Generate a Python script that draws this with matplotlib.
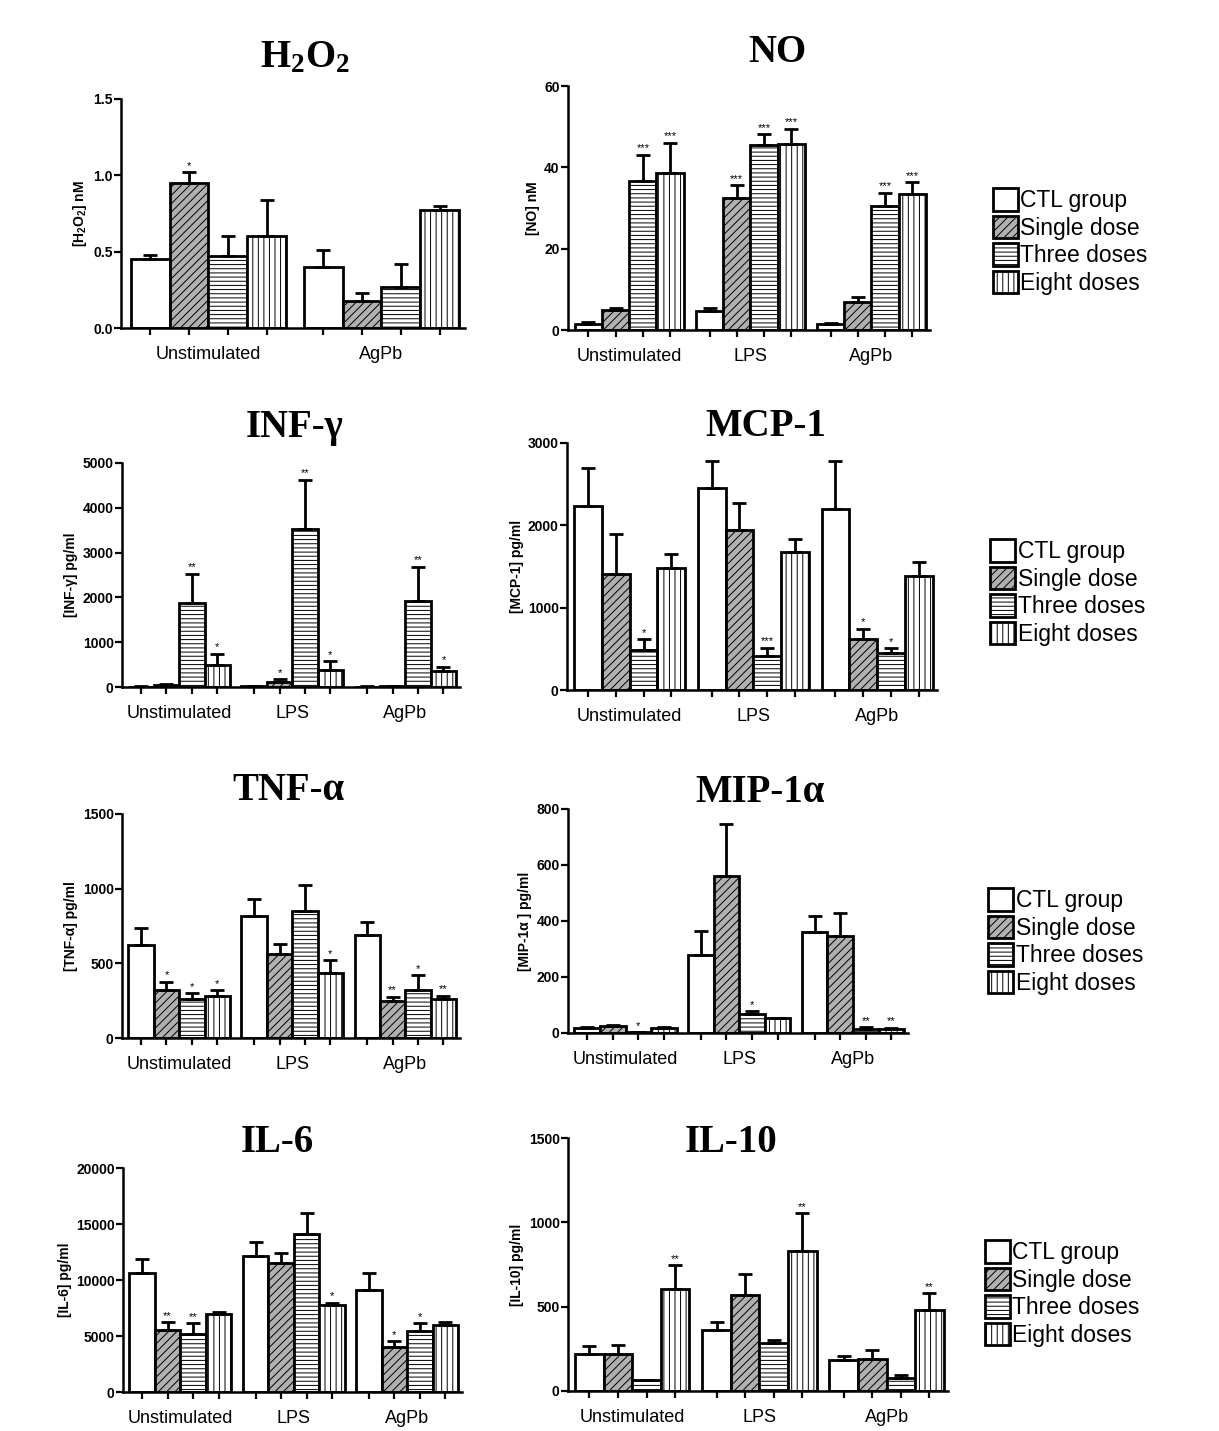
import matplotlib
matplotlib.use('Agg')
import matplotlib.pyplot as plt
import numpy as np

plt.rcParams['font.family'] = ['Liberation Sans', 'DejaVu Sans']
plt.rcParams['mathtext.fontset'] = 'custom'
plt.rcParams['mathtext.bf'] = 'Liberation Serif:bold'
plt.rcParams['mathtext.sf'] = 'Liberation Sans:bold'
plt.rcParams['hatch.linewidth'] = 0.7

W, H = 1219, 1431

# categories
groups2 = ['Unstimulated', 'AgPb']
groups3 = ['Unstimulated', 'LPS', 'AgPb']
series = ['CTL group', 'Single dose', 'Three doses', 'Eight doses']

# values: one row per series (CTL, single, three, eight), one column per group
h2o2_mean = [[0.45, 0.40], [0.95, 0.18], [0.47, 0.27], [0.60, 0.77]]
h2o2_sem = [[0.03, 0.11], [0.07, 0.05], [0.13, 0.15], [0.24, 0.03]]
h2o2_sig = [['', ''], ['*', ''], ['', ''], ['', '']]

no_mean = [[1.5, 4.7, 1.5], [4.8, 32.5, 6.9], [36.6, 45.4, 30.4], [38.5, 45.7, 33.4]]
no_sem = [[0.4, 0.8, 0.3], [0.7, 3.1, 1.3], [6.5, 2.7, 3.4], [7.6, 3.8, 3.0]]
no_sig = [['', '', ''], ['', '***', ''], ['***', '***', '***'], ['***', '***', '***']]

inf_mean = [[10, 20, 10], [50, 110, 15], [1875, 3520, 1920], [485, 370, 360]]
inf_sem = [[5, 5, 5], [15, 60, 5], [655, 1110, 760], [260, 210, 90]]
inf_sig = [['', '', ''], ['', '*', ''], ['**', '**', '**'], ['*', '*', '*']]

mcp_mean = [[2230, 2450, 2200], [1410, 1945, 616], [486, 413, 446], [1487, 1675, 1385]]
mcp_sem = [[470, 330, 580], [480, 325, 126], [130, 102, 61], [163, 160, 175]]
mcp_sig = [['', '', ''], ['', '', '*'], ['*', '***', '*'], ['', '', '']]

tnf_mean = [[625, 819, 688], [321, 562, 248], [261, 850, 321], [284, 438, 259]]
tnf_sem = [[113, 111, 87], [56, 65, 29], [38, 175, 101], [37, 84, 25]]
tnf_sig = [['', '', ''], ['*', '', '**'], ['*', '', '*'], ['*', '*', '**']]

mip_mean = [[18, 280, 360], [24, 562, 345], [2, 68, 15], [17, 55, 15]]
mip_sem = [[3, 83, 59], [3, 184, 85], [0, 9, 5], [3, 0, 4]]
mip_sig = [['', '', ''], ['', '', ''], ['*', '*', '**'], ['', '', '**']]

il6_mean = [[10625, 12110, 9140], [5565, 11520, 3990], [5180, 14140, 5480], [6995, 7740, 5950]]
il6_sem = [[1250, 1280, 1485], [655, 890, 530], [980, 1840, 680], [115, 210, 270]]
il6_sig = [['', '', ''], ['**', '', '*'], ['**', '', '*'], ['', '*', '']]

il10_mean = [[222, 361, 182], [222, 571, 190], [63, 287, 79], [602, 832, 478]]
il10_sem = [[44, 47, 26], [50, 123, 52], [4, 14, 18], [145, 222, 101]]
il10_sig = [['', '', ''], ['', '', ''], ['', '', ''], ['**', '**', '**']]

faces = ['white', '#b0b0b0', 'white', 'white']
hatches = ['', '////', '----', '|||']

fig = plt.figure(figsize=(W / 100, H / 100), dpi=100)


def px_axes(x0, y0, x1, y1):
    return fig.add_axes([x0 / W, 1 - y1 / H, (x1 - x0) / W, (y1 - y0) / H])


def panel(box, groups, mean, sem, sig, yticks, ylabel, fmt='{:.0f}'):
    ax = px_axes(*box)
    gap = 0.45
    ng = len(groups)
    handles = []
    centers = []
    for s in range(4):
        xs = np.array([g * (4 + gap) + s + 0.5 for g in range(ng)])
        centers.extend(xs)
        m = np.array(mean[s], dtype=float)
        e = np.array(sem[s], dtype=float)
        b = ax.bar(xs, m, width=1.0, facecolor=faces[s], edgecolor='black',
                   hatch=hatches[s], linewidth=2.0, zorder=2, label=series[s])
        handles.append(b)
        ax.errorbar(xs, m, yerr=[np.zeros_like(e), e], fmt='none', ecolor='black',
                    elinewidth=2.0, capsize=5, capthick=2.0, zorder=3)
        for x, v, err, t in zip(xs, m, e, sig[s]):
            if t:
                ax.annotate(t, (x, v + err), xytext=(0, 1), textcoords='offset points',
                            ha='center', va='bottom', fontsize=8)
    ax.set_xlim(-0.25, ng * 4 + (ng - 1) * gap + 0.15)
    ax.set_ylim(yticks[0], yticks[-1])
    ax.set_yticks(yticks)
    ax.set_yticklabels([fmt.format(t) for t in yticks], fontsize=10, fontweight='bold')
    ax.set_xticks([g * (4 + gap) + 2 for g in range(ng)])
    ax.set_xticklabels(groups, fontsize=13)
    ax.set_xticks(sorted(centers), minor=True)
    ax.tick_params(axis='x', which='major', length=0, pad=13)
    ax.tick_params(axis='x', which='minor', length=5, width=1.6, direction='out')
    ax.tick_params(axis='y', length=5, width=1.6, direction='out', pad=1)
    ax.set_ylabel(ylabel, fontsize=10, fontweight='bold', labelpad=3)
    for sp in ['top', 'right']:
        ax.spines[sp].set_visible(False)
    for sp in ['left', 'bottom']:
        ax.spines[sp].set_linewidth(1.8)
    ax.set_facecolor('none')
    return handles


def title(x, y, text):
    fig.text(x / W, 1 - y / H, text, ha='center', va='baseline', fontsize=28,
             fontweight='bold', family='Liberation Serif')


def legend(handles, x, y):
    fig.legend(handles, series, loc='upper left', bbox_to_anchor=(x / W, 1 - y / H),
               frameon=False, fontsize=16.5, handlelength=1.1, handleheight=1.15,
               labelspacing=0.15, handletextpad=0.1, borderpad=0, borderaxespad=0)


h = panel((121, 99, 465, 328), groups2, h2o2_mean, h2o2_sem, h2o2_sig,
          [0, 0.5, 1.0, 1.5], r'[H$\mathsf{_2}$O$\mathsf{_2}$] nM', fmt='{:.1f}')
title(305, 67, r'H$\mathbf{_2}$O$\mathbf{_2}$')
panel((568, 86, 930, 330), groups3, no_mean, no_sem, no_sig, [0, 20, 40, 60], '[NO] nM')
title(777, 62, 'NO')
legend(h, 993, 188)

h = panel((122, 463, 460, 687), groups3, inf_mean, inf_sem, inf_sig,
          [0, 1000, 2000, 3000, 4000, 5000], '[INF-γ] pg/ml')
title(295, 437, 'INF-γ')
panel((567, 443, 937, 690), groups3, mcp_mean, mcp_sem, mcp_sig,
      [0, 1000, 2000, 3000], '[MCP-1] pg/ml')
title(766, 436, 'MCP-1')
legend(h, 990, 539)

h = panel((122, 814, 460, 1038), groups3, tnf_mean, tnf_sem, tnf_sig,
          [0, 500, 1000, 1500], '[TNF-α] pg/ml')
title(288, 800, 'TNF-α')
panel((568, 809, 908, 1033), groups3, mip_mean, mip_sem, mip_sig,
      [0, 200, 400, 600, 800], '[MIP-1α ] pg/ml')
title(760, 802, 'MIP-1α')
legend(h, 988, 888)

h = panel((123, 1168, 462, 1392), groups3, il6_mean, il6_sem, il6_sig,
          [0, 5000, 10000, 15000, 20000], '[IL-6] pg/ml')
title(277, 1152, 'IL-6')
panel((568, 1138, 948, 1391), groups3, il10_mean, il10_sem, il10_sig,
      [0, 500, 1000, 1500], '[IL-10] pg/ml')
title(731, 1152, 'IL-10')
legend(h, 985, 1240)

fig.savefig('out.png', dpi=100, facecolor='white')
